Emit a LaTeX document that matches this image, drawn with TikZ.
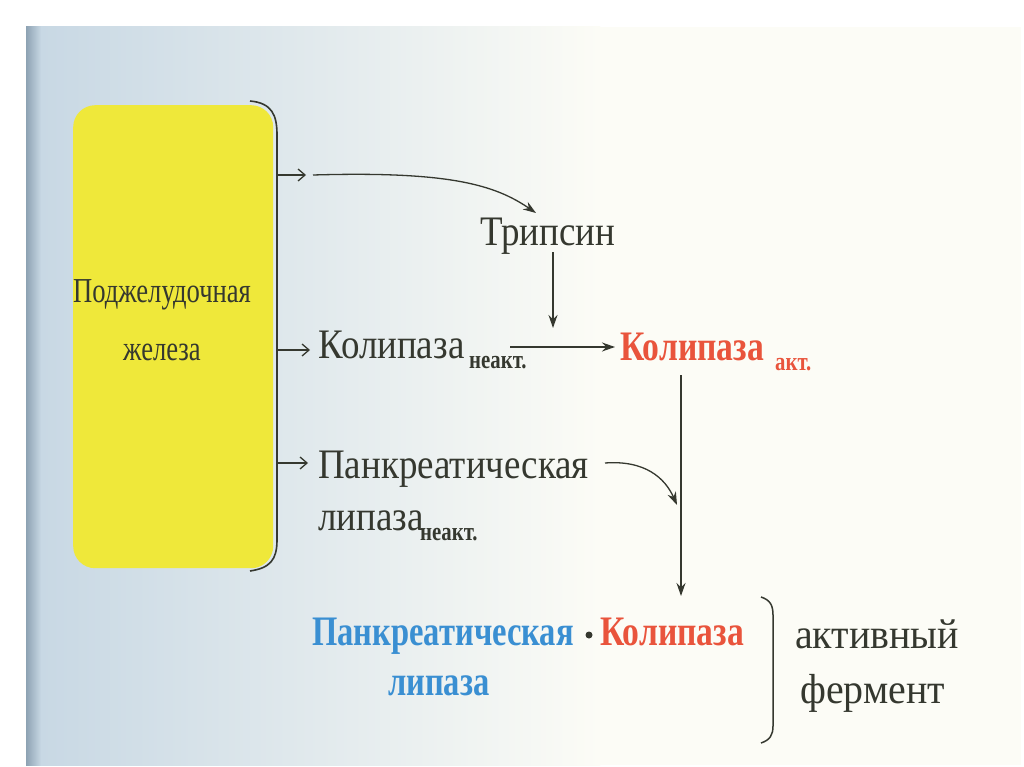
\documentclass[tikz,border=0pt]{standalone}
\usepackage{fontspec}
\usetikzlibrary{arrows.meta}
\setmainfont{Liberation Serif}
\newfontfamily\cond[FakeStretch=0.88]{Liberation Serif}
\newfontfamily\condw[FakeStretch=0.95]{Liberation Serif}
\newfontfamily\condbox[FakeStretch=0.76]{Liberation Serif}
\newfontfamily\condb[FakeStretch=0.8]{Liberation Serif}
\newfontfamily\condbb[FakeStretch=0.775]{Liberation Serif}
\definecolor{ink}{HTML}{35382F}
\definecolor{gland}{HTML}{EFE83A}
\definecolor{redk}{HTML}{E9543C}
\definecolor{bluep}{HTML}{3A8FD2}
\definecolor{paper}{HTML}{FCFCF6}
\definecolor{pageblue}{HTML}{C8D8E4}
\definecolor{edge}{HTML}{8DA2B3}
\tikzset{
  txt/.style={anchor=base west,inner sep=0pt,text=ink,font=\cond\fontsize{42}{44}\selectfont},
  txtw/.style={anchor=base west,inner sep=0pt,text=ink,font=\condw\fontsize{42}{44}\selectfont},
  sub/.style={anchor=base west,inner sep=0pt,text=ink,font=\condb\bfseries\fontsize{26}{28}\selectfont},
  boldr/.style={anchor=base west,inner sep=0pt,text=redk,font=\condb\bfseries\fontsize{42}{44}\selectfont},
  boldb/.style={anchor=base west,inner sep=0pt,text=bluep,font=\condbb\bfseries\fontsize{42}{44}\selectfont},
  boxtxt/.style={anchor=base,inner sep=0pt,text=ink,font=\condbox\fontsize{35}{37}\selectfont},
  open/.style={draw=ink,line width=1.3pt,-{Straight Barb[length=7pt,width=12pt]}},
  filled/.style={draw=ink,line width=1.3pt,-{Stealth[length=13pt,width=9pt]}},
}
\begin{document}
\begin{tikzpicture}[x=1pt,y=-1pt]
\useasboundingbox (0,0) rectangle (1024,767);
\fill[white] (0,0) rectangle (1024,767);
% scanned page
\fill[paper] (26,27) rectangle (1021,765);
\shade[left color=pageblue,right color=paper] (40,27) rectangle (600,765);
\shade[left color=edge,right color=pageblue] (26,27) rectangle (41,765);
% gland box
\node[fill=gland,rounded corners=22pt,minimum width=200pt,minimum height=463pt,anchor=north west,inner sep=0pt] (box) at (73,105) {};
\draw[ink,line width=1.6pt] (250,101) .. controls (272,103) and (277,115) .. (277,135) -- (277,540) .. controls (277,560) and (270,568) .. (250,571);
\node[boxtxt] (g1) at (162,302) {Поджелудочная};
\node[boxtxt] (g2) at (162,360) {железа};
% texts
\node[txt] (trip) at (480,245) {Трипсин};
\node[txt] (kolin) at (318,358) {Колипаза};
\node[sub] (kolinsub) at (469,368) {неакт.};
\node[boldr] (kolact) at (620,360) {Колипаза};
\node[sub,text=redk] (kolactsub) at (775,370) {акт.};
\node[txt] (pank) at (318,478) {Панкреатическая};
\node[txt] (lip) at (318,530) {липаза};
\node[sub] (lipsub) at (420,540) {неакт.};
\node[boldb] (bpank) at (312,645) {Панкреатическая};
\node[boldb] (blip) at (388,695) {липаза};
\node[circle,fill=ink,inner sep=0pt,minimum size=7pt] (dot) at (589,635) {};
\node[boldr] (bkol) at (600,645) {Колипаза};
\node[txtw] (act) at (795,648) {активный};
\node[txtw] (ferm) at (800,703) {фермент};
% coordinates
\coordinate (a1) at (306,175);
\coordinate (c1) at (313,175);
\coordinate (t1) at (536,213);
\coordinate (a2) at (310,350);
\coordinate (a3) at (308,463);
\coordinate (c3) at (605,463);
\coordinate (t3) at (677,505);
\coordinate (h1) at (510,347);
\coordinate (h2) at (615,347);
\coordinate (v1) at (553,252);
\coordinate (v2) at (553,328);
\coordinate (d1) at (681,375);
\coordinate (d2) at (681,596);
% connectors
\draw[open] (box.east |- a1) ++(5,0) -- (a1);
\draw[filled] (c1) .. controls (450,171) and (495,185) .. (t1);
\draw[open] (box.east |- a2) ++(5,0) -- (a2);
\draw[open] (box.east |- a3) ++(5,0) -- (a3);
\draw[filled] (h1) -- (h2);
\draw[filled] (v1) -- (v2);
\draw[filled] (c3) .. controls (645,460) and (665,478) .. (t3);
\draw[filled] (d1) -- (d2);
% bracket
\draw[ink,line width=1.5pt] (761,597) .. controls (770,600) and (773,605) .. (773,615) -- (773,726) .. controls (773,735) and (770,740) .. (761,743);
\end{tikzpicture}
\end{document}
